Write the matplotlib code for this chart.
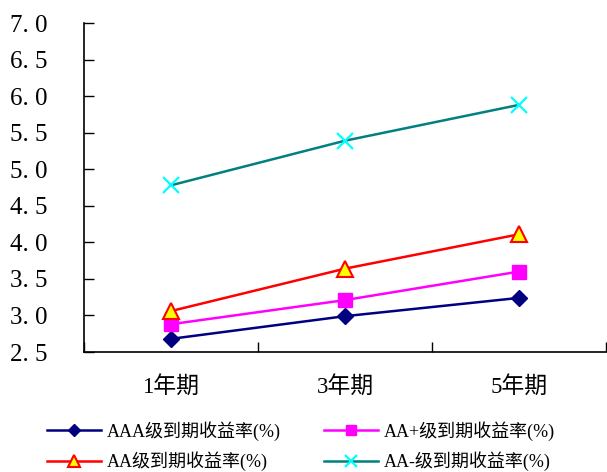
import matplotlib
matplotlib.use("Agg")
import matplotlib.pyplot as plt

plt.rcParams["font.family"] = ["Liberation Serif", "Noto Sans CJK SC", "DejaVu Sans"]

# ─── Data ─────────────────────────────────────────────────────────────────────

terms = ["1年期", "3年期", "5年期"]
aaa_yield = [2.68, 2.99, 3.24]
aa_plus_yield = [2.88, 3.21, 3.60]
aa_yield = [3.06, 3.64, 4.11]
aa_minus_yield = [4.78, 5.39, 5.88]
y_ticks = [2.5, 3.0, 3.5, 4.0, 4.5, 5.0, 5.5, 6.0, 6.5, 7.0]

# ─── Plot ─────────────────────────────────────────────────────────────────────

fig = plt.figure(figsize=(6.07, 4.72), dpi=100)
ax = fig.add_axes([84 / 607, 1 - 352 / 472, 522 / 607, 329 / 472])

x = list(range(len(terms)))
lw = 1.8

l_aaa, = ax.plot(x, aaa_yield, color="#000080", linewidth=lw, marker="D",
                 markersize=8, markerfacecolor="#000080", markeredgecolor="#000080",
                 label="AAA级到期收益率(%)", zorder=3)
l_aap, = ax.plot(x, aa_plus_yield, color="#FF00FF", linewidth=lw, marker="s",
                 markersize=10.5, markerfacecolor="#FF00FF", markeredgecolor="#FF00FF",
                 label="AA+级到期收益率(%)", zorder=3)
l_aa, = ax.plot(x, aa_yield, color="#FF0000", linewidth=lw, marker="^",
                markersize=11, markerfacecolor="#FFFF00", markeredgecolor="#FF0000",
                markeredgewidth=1.5, label="AA级到期收益率(%)", zorder=3)
l_aam, = ax.plot(x, aa_minus_yield, color="#008080", linewidth=lw, marker="x",
                 markersize=11, markeredgecolor="#00FFFF", markeredgewidth=1.6,
                 label="AA-级到期收益率(%)", zorder=3)

ax.set_xlim(-0.5, len(terms) - 0.5)
ax.set_ylim(2.5, 7.0)

# category labels centred, ticks on boundaries
ax.set_xticks([i - 0.5 for i in range(len(terms) + 1)])
ax.set_xticklabels([])
ax.set_xticks(x, minor=True)
ax.set_xticklabels(terms, minor=True, fontsize=16.5)
ax.tick_params(axis="x", which="minor", length=0, pad=17)
ax.tick_params(axis="x", which="major", direction="in", length=7, width=1)

ax.set_yticks(y_ticks)
ax.set_yticklabels([f"{v:.1f}".replace(".", ". ") for v in y_ticks], fontsize=18)
ax.tick_params(axis="y", direction="in", length=7, width=1, pad=53)
for lbl in ax.get_yticklabels():
    lbl.set_horizontalalignment("left")

for side in ["top", "right"]:
    ax.spines[side].set_visible(False)
for side in ["left", "bottom"]:
    ax.spines[side].set_linewidth(1.2)
    ax.spines[side].set_color("#000000")

# column-major order so rows read AAA / AA+ then AA / AA-
handles = [l_aaa, l_aa, l_aap, l_aam]
fig.legend(handles=handles, labels=[h.get_label() for h in handles],
           loc="upper left", bbox_to_anchor=(47 / 607, 1 - 421 / 472),
           ncol=2, frameon=False, fontsize=13, handlelength=3.0,
           handletextpad=0.3, columnspacing=2.4, labelspacing=0.6,
           borderpad=0, borderaxespad=0, markerscale=0.75)

fig.savefig("out.png", dpi=100)
